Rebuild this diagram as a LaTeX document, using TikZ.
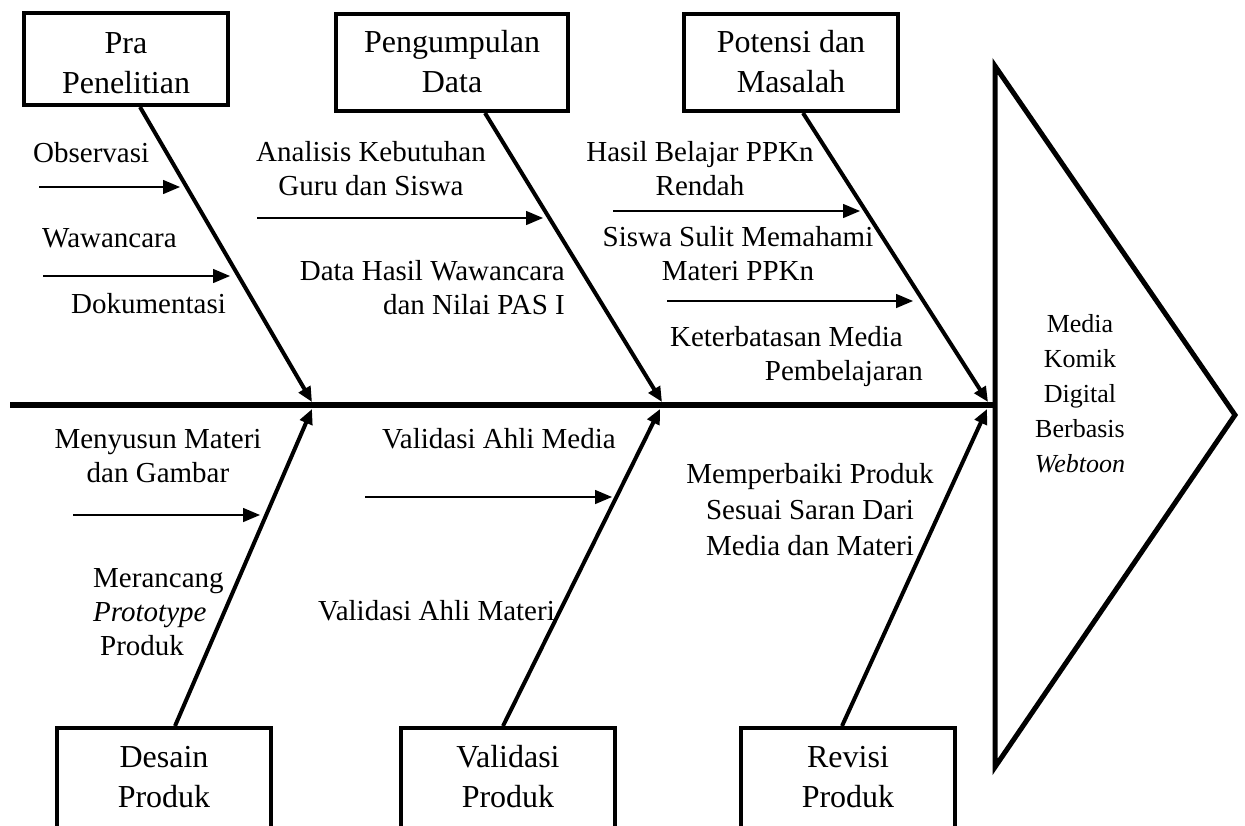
\documentclass[tikz,border=0pt]{standalone}
\usepackage{fontspec}
\setmainfont{Liberation Serif}
\usetikzlibrary{arrows.meta,calc}
\begin{document}
\begin{tikzpicture}[x=1pt,y=-1pt,
  catbox/.style={draw,rectangle,line width=4pt,inner sep=0pt},
  cattext/.style={inner sep=0pt,align=center,anchor=base,font=\fontsize{32pt}{40pt}\selectfont},
  cause/.style={inner sep=0pt,anchor=base,font=\fontsize{29pt}{34pt}\selectfont},
  bone/.style={line width=4pt,-{Triangle[length=15pt,width=13pt]}},
  twig/.style={line width=1.5pt,-{Triangle[length=17pt,width=14pt]}},
  spine/.style={line width=6pt},
  fishhead/.style={line width=5pt,line join=miter}]
\useasboundingbox (0,0) rectangle (1245,825);
\clip (0,0) rectangle (1245,825);

% category boxes, upper row (multi-line texts are placed by their last baseline)
\node[catbox,minimum width=204pt,minimum height=92pt] (pra) at (126,59) {};
\node[cattext] (praT) at (126,93) {Pra\\Penelitian};
\node[catbox,minimum width=232pt,minimum height=97pt] (peng) at (452,62.5) {};
\node[cattext] (pengT) at (452,92) {Pengumpulan\\Data};
\node[catbox,minimum width=214pt,minimum height=97pt] (pot) at (791,62.5) {};
\node[cattext] (potT) at (791,92) {Potensi dan\\Masalah};

% category boxes, lower row (run past the bottom edge)
\node[catbox,minimum width=214pt,minimum height=120pt] (des) at (164,788) {};
\node[cattext] (desT) at (164,807) {Desain\\Produk};
\node[catbox,minimum width=214pt,minimum height=120pt] (val) at (508,788) {};
\node[cattext] (valT) at (508,807) {Validasi\\Produk};
\node[catbox,minimum width=214pt,minimum height=120pt] (rev) at (848,788) {};
\node[cattext] (revT) at (848,807) {Revisi\\Produk};

% head of the fish
\draw[fishhead] (995,66) -- (1235,415) -- (995,767) -- cycle;
\node[inner sep=0pt,anchor=base,align=center,font=\fontsize{26pt}{35pt}\selectfont] (media) at (1080,472)
  {Media\\Komik\\Digital\\Berbasis\\\textit{Webtoon}};

% spine
\coordinate (tail) at (10,405);
\coordinate (neck) at (993,405);
\draw[spine] (tail) -- (neck);

% joints on the spine
\coordinate (j1) at (312,402);
\coordinate (j2) at (662,402);
\coordinate (j3) at (988,402);
\coordinate (k1) at (312,409);
\coordinate (k2) at (660,409);
\coordinate (k3) at (987,409);

% main bones
\draw[bone] ([xshift=14pt]pra.south) -- (j1);
\draw[bone] ([xshift=33pt]peng.south) -- (j2);
\draw[bone] ([xshift=12pt]pot.south) -- (j3);
\draw[bone] ([xshift=11pt]des.north) -- (k1);
\draw[bone] ([xshift=-5pt]val.north) -- (k2);
\draw[bone] ([xshift=-6pt]rev.north) -- (k3);

% small arrows
\coordinate (o1) at (39,187);  \coordinate (o2) at (180,187);
\coordinate (w1) at (43,276);  \coordinate (w2) at (230,276);
\coordinate (a1) at (257,218); \coordinate (a2) at (543,218);
\coordinate (h1) at (613,211); \coordinate (h2) at (860,211);
\coordinate (s1) at (667,301); \coordinate (s2) at (913,301);
\coordinate (m1) at (73,515);  \coordinate (m2) at (260,515);
\coordinate (v1) at (365,497); \coordinate (v2) at (612,497);
\foreach \p in {o,w,a,h,s,m,v} \draw[twig] (\p1) -- (\p2);

% causes
\node[cause,anchor=base west] (obs) at (33,162) {Observasi};
\node[cause,anchor=base west] (waw) at (42,247) {Wawancara};
\node[cause,anchor=base west] (dok) at (71,313) {Dokumentasi};
\node[cause,align=center] (ana) at (371,195) {Analisis Kebutuhan\\Guru dan Siswa};
\node[cause,align=right,anchor=base east] (dat) at (565,314) {Data Hasil Wawancara\\dan Nilai PAS I};
\node[cause,align=center] (has) at (700,195) {Hasil Belajar PPKn\\Rendah};
\node[cause,align=center] (sis) at (738,280) {Siswa Sulit Memahami\\Materi PPKn};
\node[cause,align=right,anchor=base east] (ket) at (923,380) {Keterbatasan Media\hspace*{20pt}\\Pembelajaran};
\node[cause,align=center] (men) at (158,482) {Menyusun Materi\\dan Gambar};
\node[cause,align=left,anchor=base west] (mer) at (93,655) {Merancang\\\textit{Prototype}\\\hspace*{7pt}Produk};
\node[cause,anchor=base west] (vam) at (382,448) {Validasi Ahli Media};
\node[cause,anchor=base east] (vat) at (555,620) {Validasi Ahli Materi};
\node[cause,align=center,font=\fontsize{29pt}{36pt}\selectfont] (mem) at (810,555) {Memperbaiki Produk\\Sesuai Saran Dari\\Media dan Materi};
\end{tikzpicture}
\end{document}
